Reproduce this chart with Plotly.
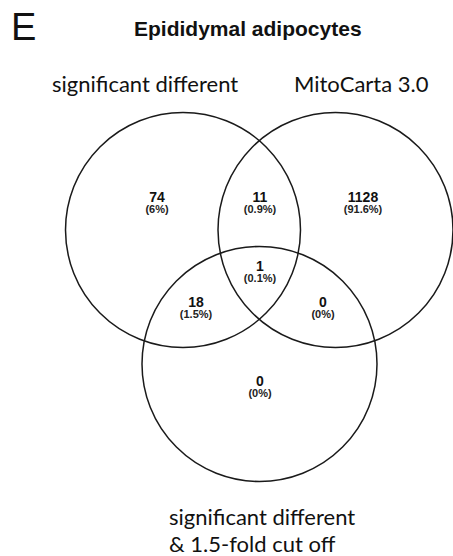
import plotly.graph_objects as go

# Set names
set_names = ["significant different", "MitoCarta 3.0", "significant different<br>& 1.5-fold cut off"]

# Region counts: A only, A∩B, B only, A∩B∩C, A∩C, B∩C, C only
regions = ["A", "AB", "B", "ABC", "AC", "BC", "C"]
counts = [74, 11, 1128, 1, 18, 0, 0]
percents = [6, 0.9, 91.6, 0.1, 1.5, 0, 0]

# Layout (pixel-like coordinates, y downward)
W, H = 453, 556
R = 117.5
centers = {"A": (183, 230), "B": (335.5, 230), "C": (259.5, 364)}
label_pos = {
    "A": (157, 198), "AB": (260, 198), "B": (363, 198),
    "ABC": (260, 267), "AC": (196, 303), "BC": (323, 303), "C": (260, 382),
}

def fmt_pct(p):
    s = f"{p:.1f}".rstrip("0").rstrip(".")
    return f"({s}%)"

xs = [label_pos[r][0] for r in regions]
ys = [label_pos[r][1] for r in regions]

fig = go.Figure()
fig.add_trace(go.Scatter(
    x=xs, y=ys, mode="text",
    text=[str(c) for c in counts],
    textposition="middle center",
    textfont=dict(family="Liberation Sans, Arial", size=14, color="#111111", weight="bold"),
    hoverinfo="skip", showlegend=False,
))
fig.add_trace(go.Scatter(
    x=xs, y=[y + 12.5 for y in ys], mode="text",
    text=[fmt_pct(p) for p in percents],
    textposition="middle center",
    textfont=dict(family="Liberation Sans, Arial", size=11, color="#222222", weight="bold"),
    hoverinfo="skip", showlegend=False,
))

shapes = []
for key in ["A", "B", "C"]:
    cx, cy = centers[key]
    shapes.append(dict(type="circle", xref="x", yref="y",
                       x0=cx - R, x1=cx + R, y0=cy - R, y1=cy + R,
                       line=dict(color="#1a1a1a", width=1.5),
                       fillcolor="rgba(0,0,0,0)"))

label_font = dict(family="Lato, Calibri, sans-serif", size=22, color="#111111")
annotations = [
    dict(x=23, y=27, text="E", showarrow=False, xanchor="center", yanchor="middle",
         font=dict(family="Liberation Sans, Arial", size=38, color="#111111")),
    dict(x=248, y=28, text="<b>Epididymal adipocytes</b>", showarrow=False,
         xanchor="center", yanchor="middle",
         font=dict(family="Liberation Sans, Arial", size=21, color="#111111")),
    dict(x=145, y=83, text=set_names[0], showarrow=False, xanchor="center",
         yanchor="middle", font=label_font),
    dict(x=361.5, y=83, text=set_names[1], showarrow=False, xanchor="center",
         yanchor="middle", font=label_font),
]
for i, line in enumerate(set_names[2].split("<br>")):
    annotations.append(dict(x=167, y=516 + 27 * i, text=line, showarrow=False,
                            xanchor="left", yanchor="middle", font=label_font))

for a in annotations:
    a.update(xref="x", yref="y")

fig.update_layout(
    width=W, height=H,
    margin=dict(l=0, r=0, t=0, b=0, pad=0),
    paper_bgcolor="white", plot_bgcolor="white",
    xaxis=dict(range=[0, W], visible=False, fixedrange=True),
    yaxis=dict(range=[H, 0], visible=False, fixedrange=True),
    shapes=shapes, annotations=annotations,
    showlegend=False,
)

fig.write_html("out.html", config={"displayModeBar": False, "staticPlot": True})
